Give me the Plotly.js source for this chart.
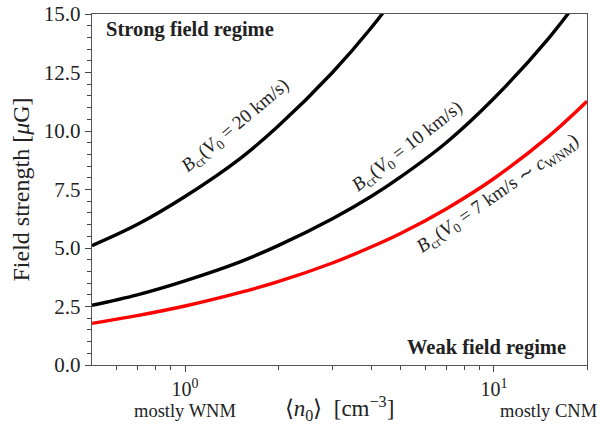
<!DOCTYPE html>
<html>
<head>
<meta charset="utf-8">
<script src="https://cdn.plot.ly/plotly-3.0.1.min.js"></script>
<style>
  html, body { margin: 0; padding: 0; background: #fff; }
  #chart { width: 602px; height: 424px; }
</style>
</head>
<body>
<div id="chart"></div>
<script>
// Mean density <n0> in cm^-3 (log axis)
const density = [0.5, 0.7, 1, 1.5, 2, 3, 4, 5, 7, 10, 15, 20];

// Critical field strength in microgauss for three turbulent velocities
const bcrV20 = [5.1, 6.0, 7.2, 8.8, 10.2, 12.5, 14.4, 16.1, 19.0, 22.8, 27.9, 32.2];
const bcrV10 = [2.55, 3.0, 3.6, 4.4, 5.1, 6.25, 7.2, 8.05, 9.5, 11.4, 13.95, 16.1];
const bcrV7 = [1.78, 2.11, 2.52, 3.09, 3.56, 4.36, 5.04, 5.63, 6.67, 7.97, 9.76, 11.27];

const yTicks = [0, 2.5, 5, 7.5, 10, 12.5, 15];
const yTickText = ['0.0', '2.5', '5.0', '7.5', '10.0', '12.5', '15.0'];
const xTicks = [1, 10];
const xTickText = ['10<sup>0</sup>', '10<sup>1</sup>'];
const xMinorTicks = [0.6, 0.7, 0.8, 0.9, 2, 3, 4, 5, 6, 7, 8, 9, 20];

const serif = 'Liberation Serif, Times New Roman, serif';
const ink = '#222';

const curve = (y, color) => ({
  x: density, y: y, type: 'scatter', mode: 'lines',
  line: { color: color, width: 3.4, shape: 'spline' },
  hoverinfo: 'skip', showlegend: false
});

const traces = [curve(bcrV20, '#000000'), curve(bcrV10, '#000000'), curve(bcrV7, '#ff0000')];

const curveLabel = (x, y, text, angle) => ({
  x: Math.log10(x), y: y, xref: 'x', yref: 'y', text: text,
  showarrow: false, textangle: angle,
  font: { family: serif, size: 19, color: ink }
});

const layout = {
  width: 602, height: 424,
  margin: { l: 92, r: 15, t: 14, b: 59 },
  paper_bgcolor: '#fff', plot_bgcolor: '#fff',
  font: { family: serif, color: ink },
  xaxis: {
    type: 'log', range: [Math.log10(0.5), Math.log10(20)],
    tickmode: 'array', tickvals: xTicks, ticktext: xTickText,
    ticks: 'outside', ticklen: 6, tickwidth: 1, tickcolor: '#444',
    minor: { tickmode: 'array', tickvals: xMinorTicks, ticks: 'outside', ticklen: 3.5,
             tickwidth: 1, tickcolor: '#444', showgrid: false },
    showgrid: false, zeroline: false,
    showline: true, linecolor: '#555', linewidth: 1.2, mirror: true,
    tickfont: { family: serif, size: 20, color: ink },
    title: { text: '⟨<i>n</i><sub>0</sub>⟩  [cm<sup>−3</sup>]', font: { family: serif, size: 23, color: ink }, standoff: 14 }
  },
  yaxis: {
    range: [0, 15], tickmode: 'array', tickvals: yTicks, ticktext: yTickText,
    ticks: 'outside', ticklen: 6, tickwidth: 1, tickcolor: '#444',
    minor: { dtick: 0.5, ticks: 'outside', ticklen: 3.5, tickwidth: 1, tickcolor: '#444', showgrid: false },
    showgrid: false, zeroline: false,
    showline: true, linecolor: '#555', linewidth: 1.2, mirror: true,
    tickfont: { family: serif, size: 21, color: ink },
    title: { text: 'Field strength [<i>μ</i>G]', font: { family: serif, size: 24, color: ink }, standoff: 7 }
  },
  annotations: [
    { x: 0.025, y: 0.955, xref: 'paper', yref: 'paper', xanchor: 'left', yanchor: 'middle',
      text: '<b>Strong field regime</b>', showarrow: false,
      font: { family: serif, size: 20.5, color: ink } },
    { x: 0.962, y: 0.05, xref: 'paper', yref: 'paper', xanchor: 'right', yanchor: 'middle',
      text: '<b>Weak field regime</b>', showarrow: false,
      font: { family: serif, size: 20.5, color: ink } },
    { x: 0, y: -0.13, xref: 'x', yref: 'paper', yanchor: 'middle',
      text: 'mostly WNM', showarrow: false, font: { family: serif, size: 18.5, color: ink } },
    { x: Math.log10(15), y: -0.13, xref: 'x', yref: 'paper', yanchor: 'middle',
      text: 'mostly CNM', showarrow: false, font: { family: serif, size: 18.5, color: ink } },
    curveLabel(1.46, 10.2, '<i>B</i><sub>cr</sub>(<i>V</i><sub>0</sub> = 20 km/s)', -40),
    curveLabel(5.25, 9.3, '<i>B</i><sub>cr</sub>(<i>V</i><sub>0</sub> = 10 km/s)', -38),
    curveLabel(10.3, 7.3, '<i>B</i><sub>cr</sub>(<i>V</i><sub>0</sub> = 7 km/s ∼ <i>c</i><sub>WNM</sub>)', -35)
  ]
};

Plotly.newPlot('chart', traces, layout, { staticPlot: true, displayModeBar: false });
</script>
</body>
</html>
